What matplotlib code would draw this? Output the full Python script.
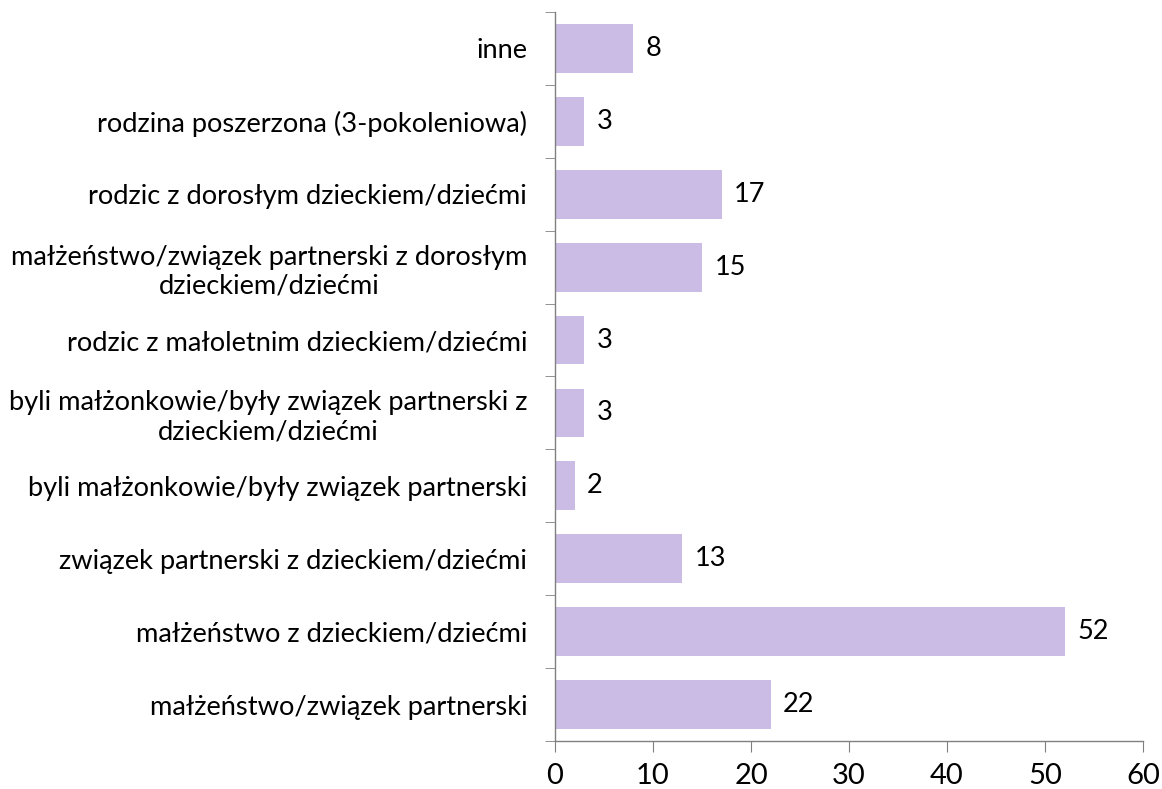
import matplotlib
matplotlib.use("Agg")
import matplotlib.pyplot as plt
import numpy as np

categories = [
    "inne",
    "rodzina poszerzona (3-pokoleniowa)",
    "rodzic z dorosłym dzieckiem/dziećmi",
    "małżeństwo/związek partnerski z dorosłym\ndzieckiem/dziećmi",
    "rodzic z małoletnim dzieckiem/dziećmi",
    "byli małżonkowie/były związek partnerski z\ndzieckiem/dziećmi",
    "byli małżonkowie/były związek partnerski",
    "związek partnerski z dzieckiem/dziećmi",
    "małżeństwo z dzieckiem/dziećmi",
    "małżeństwo/związek partnerski",
]
values = [8, 3, 17, 15, 3, 3, 2, 13, 52, 22]
xticks = [0, 10, 20, 30, 40, 50, 60]

plt.rcParams['font.family'] = ['Lato', 'DejaVu Sans']

fig = plt.figure(figsize=(11.62, 7.89), dpi=100)
ax = fig.add_axes([555/1162, 1 - 741/789, (1143 - 555)/1162, (741 - 12)/789])

n = len(categories)
y = np.arange(n)
ax.barh(y, values, height=0.67, color="#cabce5", edgecolor="none")
ax.set_ylim(n - 0.5, -0.5)
ax.set_xlim(0, 60)
ax.set_xticks(xticks)
ax.set_xticklabels([str(t) for t in xticks], fontsize=21)

ax.set_yticks(y)
ax.set_yticklabels(categories, fontsize=19.6)
for lab in ax.get_yticklabels():
    lab.set_multialignment('center')
ax.tick_params(axis='y', which='major', length=0, pad=20)
ax.set_yticks(np.arange(-0.5, n, 1), minor=True)
ax.tick_params(axis='y', which='minor', length=7, color="#808080", direction='out')
ax.tick_params(axis='x', which='major', length=8, color="#808080", direction='out', pad=8)

for s in ['top', 'right']:
    ax.spines[s].set_visible(False)
for s in ['left', 'bottom']:
    ax.spines[s].set_color("#808080")
    ax.spines[s].set_linewidth(1.0)

for yi, v in zip(y, values):
    ax.annotate(str(v), xy=(v, yi), xytext=(9, 0), textcoords='offset points',
                va='center', ha='left', fontsize=19.5)

fig.savefig("out.png", dpi=100)
